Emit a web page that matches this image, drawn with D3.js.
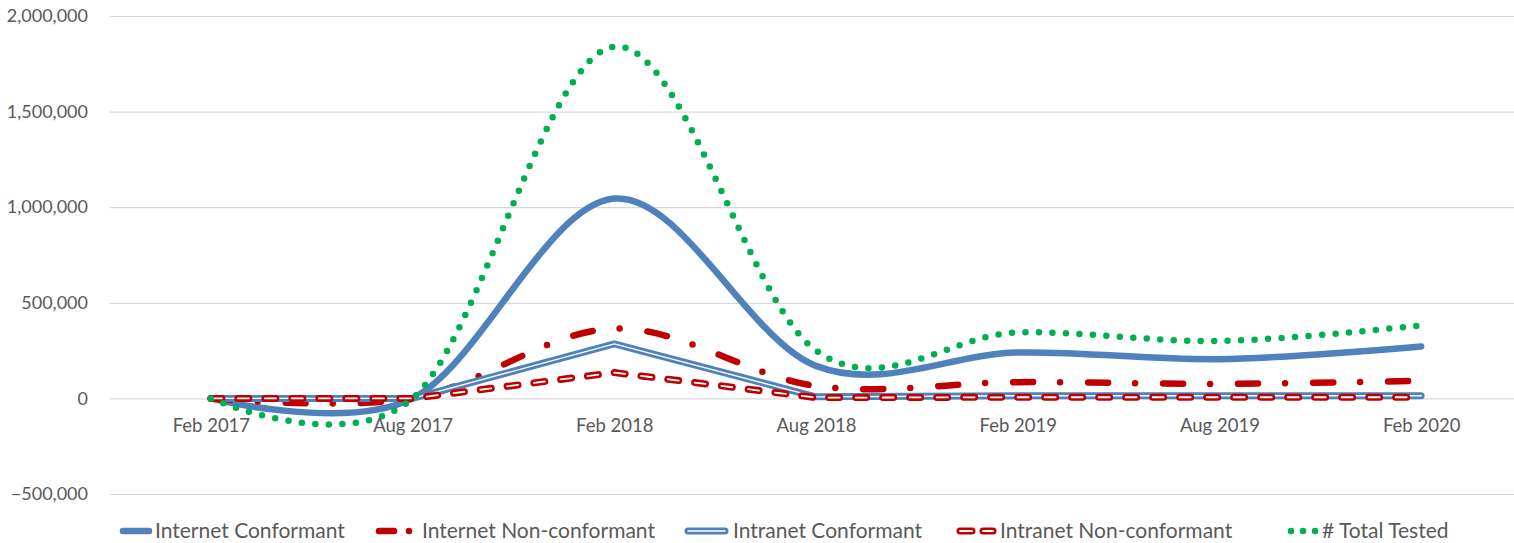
<!DOCTYPE html>
<html>
<head>
<meta charset="utf-8">
<script src="https://cdn.jsdelivr.net/npm/d3@7"></script>
<style>
  body { margin: 0; background: #fff; }
  svg { display: block; }
  text { font-family: Lato, "Open Sans", sans-serif; fill: #595959; }
</style>
</head>
<body>
<svg id="chart" width="1514" height="543"></svg>
<script>
// Reporting periods
const categories = ["Feb 2017", "Aug 2017", "Feb 2018", "Aug 2018", "Feb 2019", "Aug 2019", "Feb 2020"];

// Pages per period
const internetConformant    = [0, 0, 1045000, 170000, 240000, 205000, 272000];
const internetNonConformant = [0, 0, 365000, 65000, 85000, 76000, 92000];
const intranetConformant    = [0, 0, 285000, 8000, 14000, 14000, 14000];
const intranetNonConformant = [0, 0, 135000, 4000, 6000, 6000, 6000];
const totalTested           = [0, 0, 1840000, 250000, 345000, 300000, 382000];

// Value axis ticks
const yTicks = [-500000, 0, 500000, 1000000, 1500000, 2000000];

const W = 1514, H = 543;
const plotLeft = 110;
const svg = d3.select("#chart");

const x = d3.scalePoint().domain(categories).range([plotLeft, 1522]).padding(0.5);
const y = d3.scaleLinear().domain([-500000, 2000000]).range([494, 16]);

// Horizontal gridlines + value labels
svg.append("g")
  .attr("transform", `translate(${plotLeft},0)`)
  .call(d3.axisLeft(y).tickValues(yTicks).tickFormat(d3.format(","))
        .tickSize(-(W - plotLeft)).tickPadding(22))
  .call(g => {
    g.select(".domain").remove();
    g.selectAll(".tick line").attr("stroke", "#d9d9d9").attr("stroke-width", 1.2);
    g.selectAll(".tick text").attr("font-size", 18).attr("fill", "#595959")
      .attr("font-family", "Lato, 'Open Sans', sans-serif");
  });

// Category labels
svg.append("g")
  .attr("transform", `translate(0,${y(0)})`)
  .call(d3.axisBottom(x).tickSize(0).tickPadding(20))
  .call(g => {
    g.select(".domain").remove();
    g.selectAll(".tick text").attr("font-size", 18.5).attr("fill", "#595959")
      .attr("font-family", "Lato, 'Open Sans', sans-serif");
  });

const BLUE = "#4f81bd", RED = "#c00000", GREEN = "#00b050";

const smoothLine = d3.line()
  .x((d, i) => x(categories[i]))
  .y(d => y(d))
  .curve(d3.curveCardinal.tension(0));
const straightLine = d3.line()
  .x((d, i) => x(categories[i]))
  .y(d => y(d));

const marks = svg.append("g").attr("fill", "none")
  .attr("stroke-linejoin", "round").attr("stroke-linecap", "round");

// Internet Conformant: solid blue
marks.append("path").attr("d", smoothLine(internetConformant))
  .attr("stroke", BLUE).attr("stroke-width", 6.5);

// Internet Non-conformant: red long dash + dot
marks.append("path").attr("d", smoothLine(internetNonConformant))
  .attr("stroke", RED).attr("stroke-width", 6.5).attr("stroke-dasharray", "20 27 0 28");

// Intranet Conformant: double blue line
marks.append("path").attr("d", straightLine(intranetConformant))
  .attr("stroke", BLUE).attr("stroke-width", 7);
marks.append("path").attr("d", straightLine(intranetConformant))
  .attr("stroke", "#fff").attr("stroke-width", 1.4);

// Intranet Non-conformant: red dashes with a white core
marks.append("path").attr("d", straightLine(intranetNonConformant))
  .attr("stroke", RED).attr("stroke-width", 7).attr("stroke-dasharray", "11 16");
marks.append("path").attr("d", straightLine(intranetNonConformant))
  .attr("stroke", "#fff").attr("stroke-width", 1.8).attr("stroke-dasharray", "11 16");

// # Total Tested: round green dots
marks.append("path").attr("d", smoothLine(totalTested))
  .attr("stroke", GREEN).attr("stroke-width", 6.5).attr("stroke-dasharray", "0 13.5");

// Legend
const legendY = 531;
const legendItems = [
  { label: "Internet Conformant", tx: 155 },
  { label: "Internet Non-conformant", tx: 422 },
  { label: "Intranet Conformant", tx: 733 },
  { label: "Intranet Non-conformant", tx: 1000 },
  { label: "# Total Tested", tx: 1322 }
];
const lg = svg.append("g").attr("fill", "none").attr("stroke-linecap", "round");
const seg = (x1, x2) => `M${x1},${legendY}L${x2},${legendY}`;

// sample 1
lg.append("path").attr("d", seg(123, 149)).attr("stroke", BLUE).attr("stroke-width", 6.5);
// sample 2
lg.append("path").attr("d", seg(379, 394)).attr("stroke", RED).attr("stroke-width", 6.5);
lg.append("path").attr("d", seg(409, 409)).attr("stroke", RED).attr("stroke-width", 6.5);
// sample 3
lg.append("path").attr("d", seg(688, 725)).attr("stroke", BLUE).attr("stroke-width", 7);
lg.append("path").attr("d", seg(688, 725)).attr("stroke", "#fff").attr("stroke-width", 1.4);
// sample 4
[[960, 972], [983, 993]].forEach(([a, b]) => {
  lg.append("path").attr("d", seg(a, b)).attr("stroke", RED).attr("stroke-width", 7);
  lg.append("path").attr("d", seg(a, b)).attr("stroke", "#fff").attr("stroke-width", 1.8);
});
// sample 5
[1291, 1303, 1315].forEach(cx => {
  lg.append("path").attr("d", seg(cx, cx)).attr("stroke", GREEN).attr("stroke-width", 6.5);
});

svg.append("g").selectAll("text").data(legendItems).join("text")
  .attr("x", d => d.tx).attr("y", legendY)
  .attr("dy", "0.35em")
  .attr("font-size", 21)
  .text(d => d.label);
</script>
</body>
</html>
